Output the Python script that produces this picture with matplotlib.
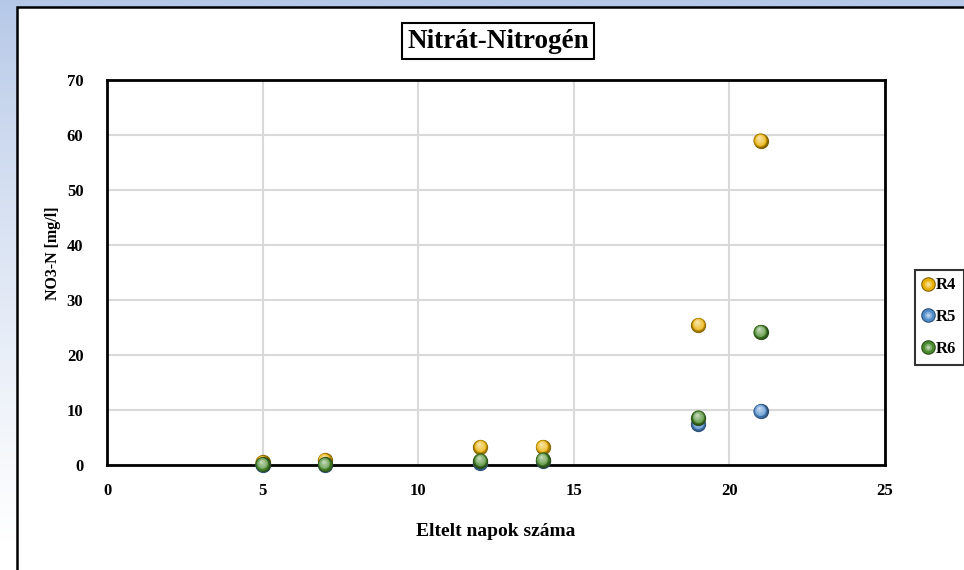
import numpy as np
import matplotlib
matplotlib.use('Agg')
import matplotlib.pyplot as plt
from matplotlib.lines import Line2D
from matplotlib.legend_handler import HandlerTuple
from matplotlib.patches import Rectangle
from matplotlib.transforms import offset_copy
from matplotlib.colors import to_rgb

plt.rcParams['font.family'] = ['Liberation Serif', 'DejaVu Serif']
plt.rcParams['font.weight'] = 'bold'

# mérési napok és NO3-N koncentrációk
napok = [5, 7, 12, 14, 19, 21]
r4 = [0.5, 0.9, 3.3, 3.3, 25.5, 59.0]
r5 = [0.0, 0.0, 0.4, 0.8, 7.5, 9.8]
r6 = [0.1, 0.1, 0.8, 1.0, 8.6, 24.2]
sorozatok = ['R4', 'R5', 'R6']
szinek = ['#eab000', '#4f8ccc', '#4a8a2c']

fig = plt.figure(figsize=(9.64, 5.70), dpi=100)

# kék átmenetes háttér
bg = fig.add_axes([0, 0, 1, 1], zorder=-10)
grad = np.linspace(0, 1, 256).reshape(-1, 1)
kek = np.array(to_rgb('#b4c7e7'))
feher = np.array([1.0, 1.0, 1.0])
t = np.clip(grad / 0.95, 0, 1) ** 0.8
img = kek * (1 - t[..., None]) + feher * t[..., None]
img = img.reshape(256, 1, 3)
bg.imshow(img, aspect='auto', extent=[0, 1, 0, 1], origin='upper')
bg.axis('off')
bg.add_patch(Rectangle((17 / 964, -0.1), 1.1, 1.1 - 7 / 570,
                       facecolor='white', edgecolor='black', linewidth=1.8,
                       transform=bg.transAxes))
bg.set_xlim(0, 1)
bg.set_ylim(0, 1)

ax = fig.add_axes([107 / 964, 1 - 465 / 570, 778 / 964, 385 / 570])
ax.set_facecolor('white')


def gomb(ax, x, y, szin, zorder, meret=11, retegek=14):
    # árnyalt "gömb" jelölő egymásra rajzolt körökből
    base = np.array(to_rgb(szin))
    sotet = base * 0.55
    vilagos = base + (1 - base) * 0.7
    for k in range(retegek):
        f = 1 - k / retegek
        d = meret * f
        u = k / (retegek - 1)
        if u < 0.3:
            c = sotet * (1 - u / 0.3) + base * (u / 0.3)
        else:
            c = base * (1 - u) + vilagos * u
        off = (1 - f) * meret * 0.22
        tr = offset_copy(ax.transData, fig=ax.figure, x=-off * 0.5, y=off, units='points')
        ax.scatter(x, y, s=d ** 2, color=c, transform=tr, zorder=zorder, linewidths=0, clip_on=False)


for i, (ertek, szin) in enumerate(zip([r4, r5, r6], szinek)):
    gomb(ax, napok, ertek, szin, zorder=3 + i)

ax.set_xlim(0, 25)
ax.set_ylim(0, 70)
ax.set_xticks(np.arange(0, 26, 5))
ax.set_yticks(np.arange(0, 71, 10))
ax.grid(True, color='#d9d9d9', linewidth=1.5)
ax.set_axisbelow(True)
for s in ax.spines.values():
    s.set_color('black')
    s.set_linewidth(2)
ax.tick_params(length=0, labelsize=12)
ax.tick_params(axis='x', pad=13)
ax.tick_params(axis='y', pad=17)

ax.set_xlabel('Eltelt napok száma', fontsize=14, fontweight='bold', va='center')
ax.xaxis.set_label_coords(0.5, -(531 - 465) / 385)
ax.set_ylabel('NO3-N [mg/l]', fontsize=11.5, fontweight='bold', va='center')
ax.yaxis.set_label_coords(-(107 - 53) / 778, (465 - 253) / 385)

fig.text(498 / 964, 1 - 41 / 570, 'Nitrát-Nitrogén', fontsize=19.5, fontweight='bold',
         ha='center', va='center',
         bbox=dict(boxstyle='square,pad=0.2', facecolor='white', edgecolor='black', linewidth=1.5))

# jelmagyarázat
fogantyuk = []
for szin in szinek:
    base = np.array(to_rgb(szin))
    retegek = []
    for f, c in [(1.0, base * 0.55), (0.85, base), (0.5, base + (1 - base) * 0.3), (0.25, base + (1 - base) * 0.6)]:
        retegek.append(Line2D([], [], linestyle='none', marker='o', markersize=10.5 * f,
                              markerfacecolor=c, markeredgewidth=0))
    fogantyuk.append(tuple(retegek))
leg = fig.legend(fogantyuk, sorozatok, loc='upper left',
                 bbox_to_anchor=(915 / 964, 1 - 270 / 570),
                 handler_map={tuple: HandlerTuple(ndivide=1)},
                 prop={'weight': 'bold', 'size': 12}, frameon=True, fancybox=False,
                 handlelength=0.7, handletextpad=0.1, labelspacing=0.95,
                 borderpad=0.45, borderaxespad=0)
leg.get_frame().set_edgecolor('black')
leg.get_frame().set_linewidth(1.5)

fig.savefig('out.png', dpi=100)
